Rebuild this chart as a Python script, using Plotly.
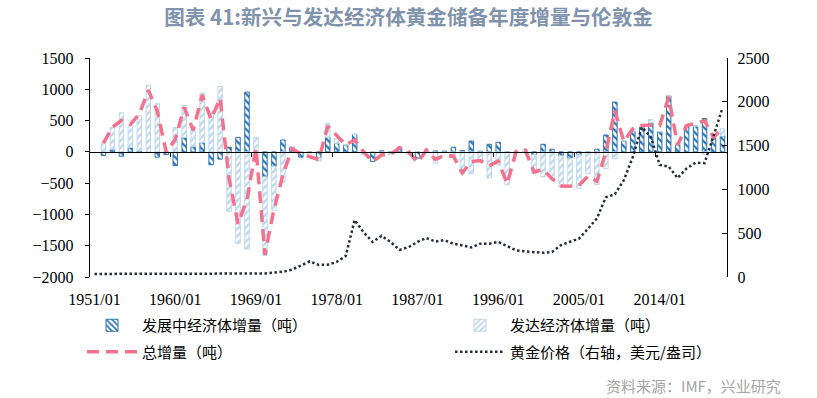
import plotly.graph_objects as go

years = list(range(1951, 2022))

# Developing economies' annual change in gold reserves (tonnes)
developing = [None,
    -60, 40, -70, 70, 15, 0, -85, -45, -221,            # 1952-1960
    232, 84, 148, -206, -116, 74, 232, 955, 0, -400,     # 1961-1970
    -232, 190, 74, -84, 0, -100, 232, 137, 110, 280,     # 1971-1980
    0, -153, 16, 0, 74, 0, -100, 10, 15, 16,             # 1981-1990
    74, 20, 174, 10, 121, 153, 0, 0, 0, -47,             # 1991-2000
    121, 42, -63, -100, -47, 0, 42, 269, 796, 174,       # 2001-2010
    332, 400, 464, 322, 895, 120, 420, 411, 533, 232,    # 2011-2020
    253]                                                 # 2021

# Developed economies' annual change in gold reserves (tonnes)
developed = [None,
    170, 350, 625, 345, 570, 1065, 770, 10, 390,
    510, 264, 790, 649, 1044, -955, -1461, -1555, 232, -1256,
    -700, -485, 0, 0, -20, -45, 222, 79, 0, 0,
    -47, 0, -30, -40, 0, -37, 0, 40, -180, 0,
    -90, -350, -350, -150, -420, -210, -525, 0, 40, -306,
    -401, -432, -496, -450, -540, -353, -522, -269, -111, 0,
    42, 0, 53, 0, 0, 0, 0, 0, -40, 0,
    115]

# Total change (tonnes)
total = [None,
    140, 395, 500, 440, 605, 985, 650, -10, 200,
    710, 345, 910, 520, 860, -430, -1150, -760, 60, -1645,
    -920, -370, 50, -30, -80, -125, 410, 265, 110, 190,
    0, -155, -50, -40, 65, 5, -170, 25, -120, -55,
    -70, -335, -155, -140, -220, -150, -510, 5, 30, -320,
    -285, -430, -545, -550, -535, -390, -470, 0, 660, 165,
    370, 420, 430, 420, 875, 110, 420, 453, 500, 232,
    380]

# London gold price (USD/oz, right axis)
gold = [35, 35, 35, 35, 35, 35, 35, 35, 35, 35,
    35, 35, 35, 35, 35, 35, 35, 38, 42, 40,
    50, 60, 83, 129, 178, 138, 140, 172, 240, 650,
    510, 400, 470, 400, 310, 340, 400, 445, 405, 420,
    380, 360, 337, 380, 380, 400, 348, 305, 292, 285,
    276, 285, 363, 403, 438, 550, 670, 910, 945, 1105,
    1370, 1710, 1600, 1280, 1260, 1130, 1240, 1305, 1300, 1610,
    1930]

tick_years = [1951, 1960, 1969, 1978, 1987, 1996, 2005, 2014]
tick_text = [f"{y}/01" for y in tick_years]
boundary_ticks = [y - 0.5 for y in tick_years[1:]]

DARK = "#2e75b6"
LIGHT = "#bdd7ee"
PINK = "#f4728c"
GOLD = "#262d3d"
CJK = "Noto Sans CJK SC"
SERIF = "Liberation Serif"

fig = go.Figure()

fig.add_trace(go.Bar(
    x=years, y=developing, name="发展中经济体增量（吨）",
    legend="legend", legendgroup="a",
    marker=dict(color="white", line=dict(color=DARK, width=1),
                pattern=dict(shape="\\", fgcolor=DARK, bgcolor="white",
                             size=5, solidity=0.45, fillmode="replace")),
))
fig.add_trace(go.Bar(
    x=years, y=developed, name="发达经济体增量（吨）",
    legend="legend2", legendgroup="b",
    marker=dict(color="white", line=dict(color=LIGHT, width=1),
                pattern=dict(shape="/", fgcolor=LIGHT, bgcolor="white",
                             size=5, solidity=0.45, fillmode="replace")),
))
fig.add_trace(go.Scatter(
    x=years, y=total, name="总增量（吨）", mode="lines",
    legend="legend", legendgroup="c",
    line=dict(color=PINK, width=3.5, dash="12px,7px"),
))
fig.add_trace(go.Scatter(
    x=years, y=gold, name="黄金价格（右轴，美元/盎司）", mode="lines",
    legend="legend2", legendgroup="d", yaxis="y2",
    line=dict(color=GOLD, width=2.5, dash="2.5px,2.5px"),
))
# carrier trace for the zero-crossing category axis
fig.add_trace(go.Scatter(
    x=years, y=total, xaxis="x2", yaxis="y", mode="lines",
    line=dict(width=0), opacity=0, showlegend=False, hoverinfo="skip",
))

L, R, T, B = 90, 90, 58, 121
W, H = 817, 398
pw, ph = W - L - R, H - T - B

def px_x(px):
    return (px - L) / pw

def px_y(py):
    return (H - B - py) / ph

fig.update_layout(
    width=W, height=H,
    margin=dict(l=L, r=R, t=T, b=B, autoexpand=False),
    paper_bgcolor="white", plot_bgcolor="white",
    barmode="relative", bargap=0.5,
    hovermode=False,
    title=dict(text="<b>图表 41:新兴与发达经济体黄金储备年度增量与伦敦金</b>",
               x=0.5, xref="container", xanchor="center",
               y=1 - 18 / H, yref="container", yanchor="middle",
               font=dict(family=CJK, size=20.6, color="#8093ad")),
    xaxis=dict(range=[1950.5, 2021.5], tickvals=tick_years, ticktext=tick_text,
               ticks="", showline=False, showgrid=False, zeroline=False,
               tickfont=dict(family=SERIF, size=16, color="black"),
               ticklabelstandoff=11, automargin=False),
    xaxis2=dict(range=[1950.5, 2021.5], overlaying="x", anchor="free",
                position=2000 / 3500, tickvals=boundary_ticks,
                ticks="outside", ticklen=4, tickcolor="black",
                showline=True, linecolor="black", linewidth=1.5,
                showticklabels=False, showgrid=False, zeroline=False),
    yaxis=dict(range=[-2000, 1500], dtick=500, tick0=0,
               ticks="outside", ticklen=4, tickcolor="black",
               showline=True, linecolor="black", linewidth=1.2,
               showgrid=False, zeroline=False, automargin=False,
               ticklabelstandoff=8,
               tickfont=dict(family=SERIF, size=16, color="black")),
    yaxis2=dict(range=[0, 2500], dtick=500, tick0=0, overlaying="y", side="right",
                ticks="inside", ticklen=5, tickcolor="black",
                showline=True, linecolor="black", linewidth=1.2,
                showgrid=False, zeroline=False, automargin=False,
                ticklabelstandoff=6,
                tickfont=dict(family=SERIF, size=16, color="black")),
    legend=dict(x=px_x(82), y=px_y(309), xanchor="left", yanchor="top",
                orientation="v", itemwidth=50, tracegroupgap=4,
                traceorder="grouped", bgcolor="rgba(0,0,0,0)",
                font=dict(family=CJK, size=15, color="black")),
    legend2=dict(x=px_x(450), y=px_y(309), xanchor="left", yanchor="top",
                 orientation="v", itemwidth=50, tracegroupgap=4,
                 traceorder="grouped", bgcolor="rgba(0,0,0,0)",
                 font=dict(family=CJK, size=15, color="black")),
    annotations=[dict(text="资料来源：IMF，兴业研究", xref="paper", yref="paper",
                      x=px_x(783), y=px_y(385), xanchor="right", yanchor="middle",
                      showarrow=False, font=dict(family=CJK, size=15, color="#a5a5a5"))],
)

fig.write_html("out.html",
               config={"displayModeBar": False, "staticPlot": True},
               post_script="document.body.style.margin='0px';document.body.style.overflow='hidden';")
